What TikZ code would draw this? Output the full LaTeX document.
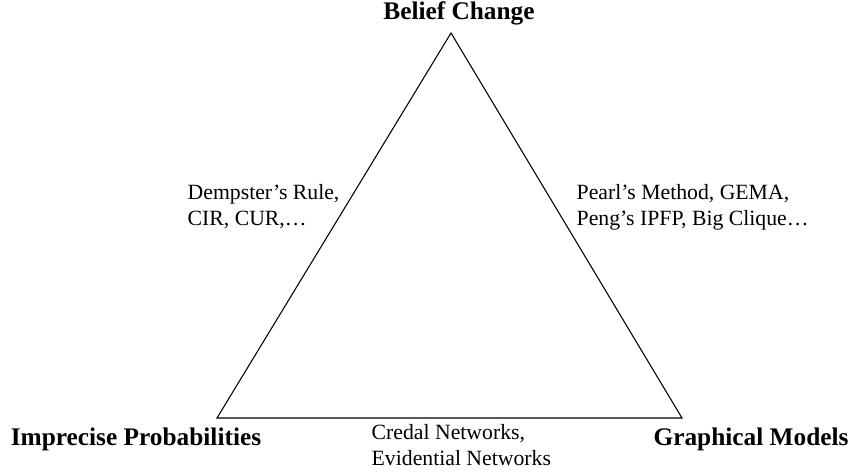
\documentclass[tikz,border=0pt]{standalone}
\usepackage{fontspec}
\setmainfont{Liberation Serif}
\begin{document}
\begin{tikzpicture}[x=0.75pt,y=-0.75pt,
        corner/.style={font=\fontsize{19}{23}\selectfont\bfseries,anchor=base},
        method/.style={font=\fontsize{16.3}{19.5}\selectfont,align=left,anchor=base west}]
                \useasboundingbox (0,0) rectangle (855,473);
                \coordinate (top) at (451,33);
                \coordinate (left) at (217,418);
                \coordinate (right) at (682,418);
                \draw[line width=0.8pt] (top) -- (right) -- (left) -- cycle;
                \node[corner] (bc) at (459,20) {Belief Change};
                \node[corner] (ip) at (136,445) {Imprecise Probabilities};
                \node[corner] (gm) at (751,445) {Graphical Models};
                \node[method] (rules) at (183,226) {Dempster's Rule,\\CIR, CUR,\dots};
                \node[method] (updates) at (572,226) {Pearl's Method, GEMA,\\Peng's IPFP, Big Clique\dots};
                \node[method] (nets) at (367,465) {Credal Networks,\\Evidential Networks};
            \end{tikzpicture}
\end{document}
